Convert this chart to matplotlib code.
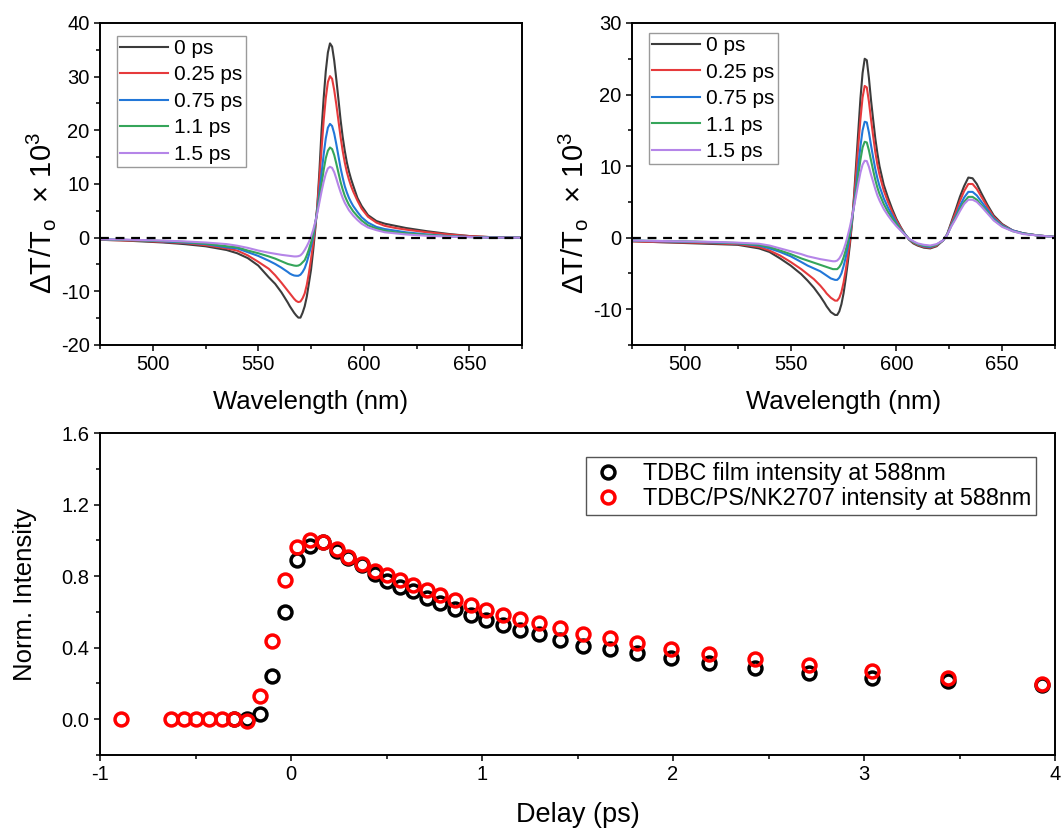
"""Transient transmission spectra of TDBC films and normalised decay at 588 nm."""

import matplotlib

matplotlib.use("Agg")
import matplotlib.pyplot as plt
from matplotlib.ticker import MultipleLocator, FormatStrFormatter

plt.rcParams["font.family"] = ["Liberation Sans", "DejaVu Sans"]
plt.rcParams["mathtext.fontset"] = "custom"
plt.rcParams["mathtext.rm"] = "Liberation Sans"
plt.rcParams["mathtext.it"] = "Liberation Sans:italic"
plt.rcParams["axes.unicode_minus"] = False

# ---- top-left: TDBC film spectra ----
WL_LEFT = [475, 485, 495, 505, 515, 525, 535, 540, 545, 550, 555, 558, 561,
           564, 565, 566, 567, 568, 569, 570, 571, 572, 573, 574, 575, 576, 577,
           578, 579, 580, 581, 582, 583, 584, 585, 586, 587, 588, 589, 590, 591,
           592, 593, 594, 595, 597, 599, 602, 606, 610, 615, 620, 630, 640, 650,
           660, 675]
LEFT_0PS = [-0.4, -0.5, -0.7, -0.9, -1.2, -1.6, -2.3, -2.9, -3.8, -5.2, -7.4, -8.6, -10.2,
            -12.1, -12.8, -13.4, -14.0, -14.5, -14.9, -14.9, -14.0, -12.8, -11.0, -8.5,
            -6.0, -2.5, 1.5, 6.0, 12.5, 20.0, 26.0, 31.0, 34.5, 36.2, 35.6, 33.0, 29.5,
            25.8, 22.0, 18.8, 16.2, 14.0,
            12.3, 10.9, 9.7, 7.4, 5.9, 4.2, 3.1, 2.6, 2.2, 1.8, 1.2, 0.7, 0.3, 0.1, 0.0]
LEFT_025PS = [-0.4, -0.5, -0.6, -0.8, -1.0, -1.4, -2.0, -2.4, -3.3, -4.5, -5.8, -7.0, -8.4,
              -9.9, -10.4, -10.9, -11.4, -11.8, -12.0, -11.9, -11.3, -10.4, -8.8, -6.6,
              -4.0, -1.2, 2.0, 5.8, 11.0, 16.5, 21.8, 26.0, 29.0, 30.1, 29.6, 27.5, 24.8,
              21.8, 18.8, 16.2, 14.0, 12.2,
              10.8, 9.6, 8.6, 6.9, 5.4, 3.9, 2.8, 2.2, 1.8, 1.5, 1.0, 0.6, 0.3, 0.1, 0.0]
LEFT_075PS = [-0.3, -0.4, -0.5, -0.7, -0.9, -1.2, -1.8, -2.0, -2.7, -3.4, -4.3, -4.9, -5.6,
              -6.4, -6.7, -6.9, -7.05, -7.1, -7.1, -6.9, -6.4, -5.7, -4.6, -3.2, -1.6,
              0.0, 2.5, 5.2, 8.4, 12.0, 15.5, 18.5, 20.5, 21.2, 20.8, 19.4, 17.4, 15.2,
              13.0, 11.2, 9.6, 8.4,
              7.4, 6.6, 5.9, 4.8, 3.8, 2.8, 2.0, 1.6, 1.3, 1.0, 0.6, 0.3, 0.15, 0.05, 0.0]
LEFT_11PS = [-0.3, -0.4, -0.5, -0.6, -0.8, -1.1, -1.6, -1.8, -2.4, -2.9, -3.5, -3.9, -4.4,
             -4.9, -5.0, -5.1, -5.2, -5.25, -5.2, -5.0, -4.6, -4.2, -3.3, -2.2, -0.9,
             0.6, 2.7, 5.0, 7.5, 10.0, 12.6, 14.8, 16.2, 16.8, 16.5, 15.4, 13.8, 12.1,
             10.4, 9.0, 7.8, 6.9,
             6.1, 5.5, 4.9, 4.0, 3.2, 2.3, 1.7, 1.3, 1.0, 0.8, 0.5, 0.25, 0.1, 0.0, 0.0]
LEFT_15PS = [-0.3, -0.35, -0.45, -0.55, -0.7, -0.9, -1.2, -1.5, -1.9, -2.4, -2.8, -3.0, -3.2,
             -3.35, -3.4, -3.45, -3.5, -3.5, -3.45, -3.3, -2.9, -2.3, -1.6, -0.8, 0.2,
             1.4, 2.9, 4.6, 6.6, 8.6, 10.4, 11.9, 12.9, 13.2, 13.0, 12.2, 11.0, 9.7,
             8.5, 7.4, 6.5, 5.8,
             5.1, 4.6, 4.1, 3.3, 2.6, 1.9, 1.4, 1.0, 0.8, 0.6, 0.35, 0.2, 0.1, 0.0, 0.0]

# ---- top-right: TDBC/PS/NK2707 spectra ----
WL_RIGHT = [475, 485, 495, 505, 515, 525, 535, 540, 545, 550, 555, 558, 561, 564,
            566, 567, 568, 569, 570, 571, 572, 573, 574, 575, 576, 577, 578, 579,
            580, 581, 582, 583, 584, 585, 586, 587, 588, 589, 590, 591, 592, 594,
            596, 598, 600, 602, 604, 606, 608, 610, 613, 616, 619, 622, 624, 626,
            628, 630, 632, 634, 636, 638, 640, 643, 646, 650, 655, 660, 667, 675]
RIGHT_0PS = [-0.5, -0.6, -0.7, -0.8, -0.9, -1.0, -1.5,
             -2.0, -2.9, -3.9, -5.1, -6.0, -7.0, -8.2, -9.1,
             -9.6, -10.0, -10.4, -10.6, -10.8, -10.8, -10.3, -9.3, -7.8, -5.8, -3.5,
             -1.0, 2.0, 6.0, 10.5, 15.0, 19.5, 23.0, 25.0, 24.8, 22.3, 19.2, 16.5,
             13.9, 11.8, 10.0,
             7.4, 5.6, 4.0, 2.6, 1.5, 0.5, -0.3, -0.8, -1.1, -1.4, -1.5, -1.2, -0.4,
             0.5, 2.2, 3.9, 5.7, 7.2, 8.4, 8.3, 7.5, 6.3, 4.6, 3.1, 1.9, 1.0, 0.6,
             0.3, 0.1]
RIGHT_025PS = [-0.5, -0.6, -0.65, -0.7, -0.8, -0.9, -1.3,
               -1.8, -2.5, -3.4, -4.4, -5.1, -5.8, -6.7, -7.4,
               -7.8, -8.1, -8.4, -8.6, -8.8, -8.8, -8.4, -7.6, -6.3, -4.6, -2.6,
               -0.5, 2.2, 5.6, 9.2, 12.9, 16.6, 19.6, 21.2, 21.0, 19.0, 16.5, 14.2,
               12.0, 10.2, 8.8,
               6.6, 5.0, 3.6, 2.4, 1.4, 0.5, -0.2, -0.7, -1.0, -1.3, -1.4, -1.1, -0.4,
               0.4, 2.0, 3.5, 5.1, 6.5, 7.5, 7.5, 6.8, 5.8, 4.3, 2.9, 1.8, 1.0, 0.6,
               0.3, 0.1]
RIGHT_075PS = [-0.4, -0.5, -0.55, -0.6, -0.7, -0.8, -1.1,
               -1.5, -2.0, -2.6, -3.4, -3.9, -4.3, -4.7, -5.1,
               -5.3, -5.5, -5.7, -5.8, -5.9, -5.9, -5.6, -5.0, -4.0, -2.8, -1.3,
               0.3, 2.4, 4.8, 7.4, 10.1, 12.8, 15.0, 16.2, 16.1, 14.7, 12.9, 11.2,
               9.6, 8.3, 7.2,
               5.5, 4.2, 3.1, 2.1, 1.2, 0.5, -0.2, -0.6, -0.9, -1.2, -1.3, -1.0, -0.4,
               0.4, 1.8, 3.0, 4.4, 5.6, 6.4, 6.4, 5.9, 5.1, 3.9, 2.7, 1.7, 1.0, 0.6,
               0.3, 0.1]
RIGHT_11PS = [-0.4, -0.45, -0.5, -0.55, -0.65, -0.75, -1.0,
              -1.3, -1.8, -2.3, -2.9, -3.2, -3.5, -3.8, -4.0,
              -4.1, -4.2, -4.3, -4.4, -4.4, -4.4, -4.1, -3.6, -2.8, -1.8, -0.6,
              0.8, 2.6, 4.6, 6.7, 8.8, 10.9, 12.6, 13.4, 13.3, 12.2, 10.8, 9.4,
              8.1, 7.0, 6.1,
              4.7, 3.6, 2.7, 1.9, 1.1, 0.4, -0.2, -0.6, -0.9, -1.1, -1.2, -1.0, -0.4,
              0.4, 1.7, 2.8, 4.0, 5.0, 5.7, 5.7, 5.3, 4.6, 3.6, 2.5, 1.6, 0.9, 0.55,
              0.3, 0.1]
RIGHT_15PS = [-0.4, -0.45, -0.5, -0.55, -0.6, -0.7, -0.85,
              -1.1, -1.5, -1.9, -2.3, -2.6, -2.8, -3.0, -3.1,
              -3.15, -3.2, -3.25, -3.3, -3.3, -3.2, -2.9, -2.4, -1.7, -0.8, 0.3,
              1.5, 2.9, 4.4, 6.0, 7.6, 9.1, 10.2, 10.75, 10.7, 9.9, 8.8, 7.8,
              6.8, 5.9, 5.2,
              4.0, 3.1, 2.3, 1.6, 1.0, 0.4, -0.2, -0.5, -0.8, -1.0, -1.1, -0.9, -0.4,
              0.4, 1.6, 2.6, 3.7, 4.7, 5.3, 5.3, 5.0, 4.4, 3.4, 2.4, 1.5, 0.9, 0.5,
              0.3, 0.1]

DELAY_LABELS = ["0 ps", "0.25 ps", "0.75 ps", "1.1 ps", "1.5 ps"]
LINE_COLORS = ["#3c3c3c", "#e63a3c", "#2277d8", "#35a55a", "#b585e8"]

# ---- bottom: normalised intensity at 588 nm ----
DELAY_FILM = [-0.30, -0.23, -0.16, -0.10, -0.03, 0.03, 0.10, 0.17, 0.24, 0.30, 0.37,
              0.44, 0.50, 0.57, 0.64, 0.71, 0.78, 0.86, 0.94, 1.02, 1.11, 1.20, 1.30,
              1.41, 1.53, 1.67, 1.81, 1.99, 2.19, 2.43, 2.71, 3.04, 3.44, 3.93]
INTENSITY_FILM = [0.0, 0.0, 0.03, 0.24, 0.60, 0.89, 0.97, 0.99, 0.94, 0.90, 0.86,
                  0.81, 0.77, 0.74, 0.715, 0.68, 0.65, 0.615, 0.585, 0.555, 0.525,
                  0.50, 0.475, 0.445, 0.41, 0.395, 0.372, 0.344, 0.316, 0.288, 0.26,
                  0.232, 0.212, 0.19]
DELAY_HYBRID = [-0.89, -0.63, -0.56, -0.50, -0.43, -0.36, -0.30, -0.23, -0.16, -0.10,
                -0.03, 0.03, 0.10, 0.17, 0.24, 0.30, 0.37, 0.44, 0.50, 0.57, 0.64,
                0.71, 0.78, 0.86, 0.94, 1.02, 1.11, 1.20, 1.30, 1.41, 1.53, 1.67,
                1.81, 1.99, 2.19, 2.43, 2.71, 3.04, 3.44, 3.93]
INTENSITY_HYBRID = [0.0, 0.0, 0.0, 0.0, 0.0, 0.0, 0.0, -0.01, 0.13, 0.44, 0.78, 0.965,
                    1.0, 0.99, 0.95, 0.905, 0.865, 0.83, 0.808, 0.78, 0.752, 0.725,
                    0.695, 0.665, 0.64, 0.613, 0.583, 0.562, 0.539, 0.51, 0.478,
                    0.455, 0.424, 0.39, 0.366, 0.334, 0.303, 0.27, 0.232, 0.199]

TICK_FS = 14.5
LABEL_FS = 18.5
YLABEL_SPECTRA = r"$\Delta$T/T$_\mathrm{o}$  $\times$ 10$^3$"


def _style_axes(ax):
    for spine in ax.spines.values():
        spine.set_linewidth(1.4)
    ax.tick_params(which="both", direction="out", top=False, right=False,
                   labelsize=TICK_FS, width=1.1, colors="black", pad=3)
    ax.tick_params(which="major", length=4.5)
    ax.tick_params(which="minor", length=3)


def _plot_spectra(ax, wl, series, ylim, legend_anchor):
    for values, label, color in zip(series, DELAY_LABELS, LINE_COLORS, strict=True):
        assert len(values) == len(wl), label
        ax.plot(wl, values, color=color, linewidth=1.5, label=label)
    ax.axhline(0, color="black", linewidth=1.6, dashes=(4, 3), zorder=5)
    ax.set_xlim(475, 675)
    ax.set_ylim(*ylim)
    ax.xaxis.set_major_locator(MultipleLocator(50))
    ax.xaxis.set_minor_locator(MultipleLocator(25))
    ax.yaxis.set_major_locator(MultipleLocator(10))
    ax.yaxis.set_minor_locator(MultipleLocator(5))
    ax.set_xlabel("Wavelength (nm)", fontsize=LABEL_FS, labelpad=11)
    ax.set_ylabel(YLABEL_SPECTRA, fontsize=21, labelpad=2)
    ax.yaxis.label.set_y(0.41)
    _style_axes(ax)
    leg = ax.legend(loc="upper left", bbox_to_anchor=legend_anchor, borderaxespad=0,
                    fontsize=15, handlelength=2.3, handletextpad=0.3,
                    labelspacing=0.36, borderpad=0.15, fancybox=False, framealpha=1)
    leg.get_frame().set_edgecolor("#9a9a9a")
    leg.get_frame().set_linewidth(1.0)


def main():
    fig = plt.figure(figsize=(10.64, 8.39), dpi=100)
    ax_left = fig.add_axes((0.094, 0.5888, 0.3966, 0.3838))
    ax_right = fig.add_axes((0.594, 0.5888, 0.3976, 0.3838))
    ax_bottom = fig.add_axes((0.094, 0.1001, 0.8976, 0.3838))

    _plot_spectra(ax_left, WL_LEFT,
                  [LEFT_0PS, LEFT_025PS, LEFT_075PS, LEFT_11PS, LEFT_15PS],
                  (-20, 40), (0.040, 0.960))
    _plot_spectra(ax_right, WL_RIGHT,
                  [RIGHT_0PS, RIGHT_025PS, RIGHT_075PS, RIGHT_11PS, RIGHT_15PS],
                  (-15, 30), (0.040, 0.969))

    marker_kw = dict(linestyle="none", marker="o", markersize=9.3,
                     markerfacecolor="none", markeredgewidth=2.5)
    ax_bottom.plot(DELAY_FILM, INTENSITY_FILM, markeredgecolor="black",
                   label="TDBC film intensity at 588nm", **marker_kw)
    ax_bottom.plot(DELAY_HYBRID, INTENSITY_HYBRID, markeredgecolor="#ff0000",
                   label="TDBC/PS/NK2707 intensity at 588nm", **marker_kw)
    ax_bottom.set_xlim(-1, 4)
    ax_bottom.set_ylim(-0.2, 1.6)
    ax_bottom.xaxis.set_major_locator(MultipleLocator(1))
    ax_bottom.xaxis.set_minor_locator(MultipleLocator(0.5))
    ax_bottom.yaxis.set_major_locator(MultipleLocator(0.4))
    ax_bottom.yaxis.set_minor_locator(MultipleLocator(0.2))
    ax_bottom.yaxis.set_major_formatter(FormatStrFormatter("%.1f"))
    ax_bottom.set_xlabel("Delay (ps)", fontsize=LABEL_FS + 1, labelpad=13)
    ax_bottom.set_ylabel("Norm. Intensity", fontsize=LABEL_FS, labelpad=18)
    _style_axes(ax_bottom)
    leg = ax_bottom.legend(loc="upper right", bbox_to_anchor=(0.980, 0.925),
                           borderaxespad=0, fontsize=16.8, handlelength=1.5,
                           handletextpad=0.75, labelspacing=0.1, borderpad=0.2,
                           fancybox=False, framealpha=1)
    leg.get_frame().set_edgecolor("#555555")
    leg.get_frame().set_linewidth(1.0)

    fig.savefig("out.png", dpi=100)
    plt.close(fig)


if __name__ == "__main__":
    main()
